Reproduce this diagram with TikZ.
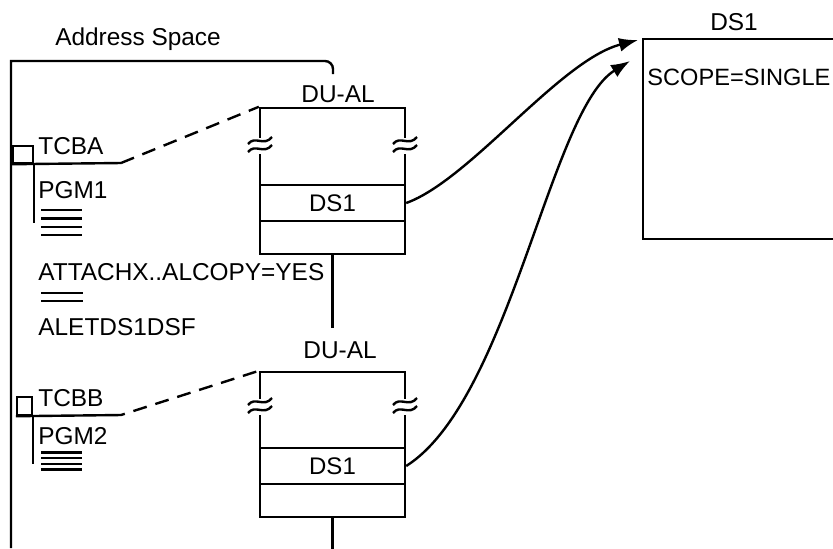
\documentclass[tikz,border=0pt]{standalone}
\usepackage{fontspec}
\setmainfont{Liberation Sans}
\usetikzlibrary{positioning, arrows.meta}
\tikzset{
  wire/.style={line width=1.2pt},
  bar/.style={line width=1.4pt},
  dubox/.style={draw,line width=1.2pt,minimum width=72.5pt,minimum height=73pt,inner sep=0pt},
  slotbox/.style={draw,line width=1.2pt,minimum width=72.5pt,minimum height=18pt,inner sep=0pt,font=\fontsize{12}{14}\selectfont},
  bigbox/.style={draw,line width=1.2pt,minimum width=103.5pt,minimum height=100pt,inner sep=0pt},
  tcbsq/.style={draw,line width=1.2pt,inner sep=0pt},
  txt/.style={inner sep=0pt,anchor=base west,font=\fontsize{12.2}{14}\selectfont},
  lab/.style={inner sep=0pt,anchor=base,font=\fontsize{12.2}{14}\selectfont},
  linkarrow/.style={-{Latex[length=9.5pt,width=7pt]}, line width=1.2pt},
  dashlink/.style={line width=1.2pt, dash pattern=on 7pt off 4.5pt},
  brkmark/.pic={
    \fill[white] (-5,-8) rectangle (5,8);
    \draw[line width=1.2pt] (-12,-2) .. controls (-5,-11) and (4,1) .. (12,-9);
    \draw[line width=1.2pt] (-12,6) .. controls (-5,-3) and (4,9) .. (12,-1);
  }
}
\begin{document}
\begin{tikzpicture}[x=0.5pt, y=-0.5pt]
  \useasboundingbox (0,0) rectangle (833,548);
  \clip (0,0) rectangle (833,548);

  % address space
  \node[lab] (addr) at (138,45) {Address Space};
  \draw[wire] (11,548) -- (11,61) [rounded corners=4pt] -- (333,61) -- (333,74);

  % DU-AL blocks
  \node[dubox] (al1) at (332.5,181) {};
  \node[lab] (al1lab) at (338,102) {DU-AL};
  \node[slotbox] (ds1a) at (332.5,203) {DS1};
  \draw[wire] (al1.south) -- ++(0,73);
  \node[dubox, minimum height=72.5pt] (al2) at (332.5,444.5) {};
  \node[lab] (al2lab) at (340,358) {DU-AL};
  \node[slotbox] (ds1b) at (332.5,466) {DS1};
  \draw[wire] (al2.south) -- ++(0,40);
  \foreach \x in {260,405} {
    \pic at (\x,146) {brkmark};
    \pic at (\x,407) {brkmark};
  }

  % task A
  \node[tcbsq, minimum width=10pt, minimum height=8.5pt] (sqa) at (23,154.5) {};
  \node[txt] (tcba) at (38,154) {TCBA};
  \coordinate (tcbaend) at (121,163);
  \draw[wire] (sqa.south west) -- (tcbaend);
  \draw[dashlink] (tcbaend) -- (al1.north west);
  \draw[wire] (sqa.south east) -- ++(0,59);
  \node[txt] (pgm1) at (38,198) {PGM1};
  \foreach \y in {210,218.5,227,235}
    \draw[bar] (41,\y) -- (82,\y);

  \node[txt] (attach) at (38,280) {ATTACHX..ALCOPY=YES};
  \foreach \y in {293,301}
    \draw[bar] (41,\y) -- (83,\y);
  \node[txt] (alet) at (38,335) {ALETDS1DSF};

  % task B
  \node[tcbsq, minimum width=7.5pt, minimum height=9pt] (sqb) at (24.5,406) {};
  \node[txt] (tcbb) at (38,406) {TCBB};
  \coordinate (tcbbend) at (121,415);
  \draw[wire] (sqb.south west) -- (tcbbend);
  \draw[dashlink, dash phase=5pt] (tcbbend) -- (al2.north west);
  \draw[wire] (sqb.south east) -- ++(0,48);
  \node[txt] (pgm2) at (38,444) {PGM2};
  \foreach \y in {452.5,458,464,469.5}
    \draw[bar] (41,\y) -- (82,\y);

  % data space
  \node[bigbox] (dsbig) at (746.5,139) {};
  \node[lab] (dsbiglab) at (734,30) {DS1};
  \node[txt, font=\fontsize{11.8}{14}\selectfont] (scope) at (647,85) {SCOPE=SINGLE};
  \coordinate (tip1) at (638,40);
  \coordinate (tip2) at (630,61);
  \draw[linkarrow] (ds1a.east) .. controls (470,180) and (560,60) .. (tip1);
  \draw[linkarrow] (ds1b.east) .. controls (510,400) and (550,110) .. (tip2);
\end{tikzpicture}
\end{document}
